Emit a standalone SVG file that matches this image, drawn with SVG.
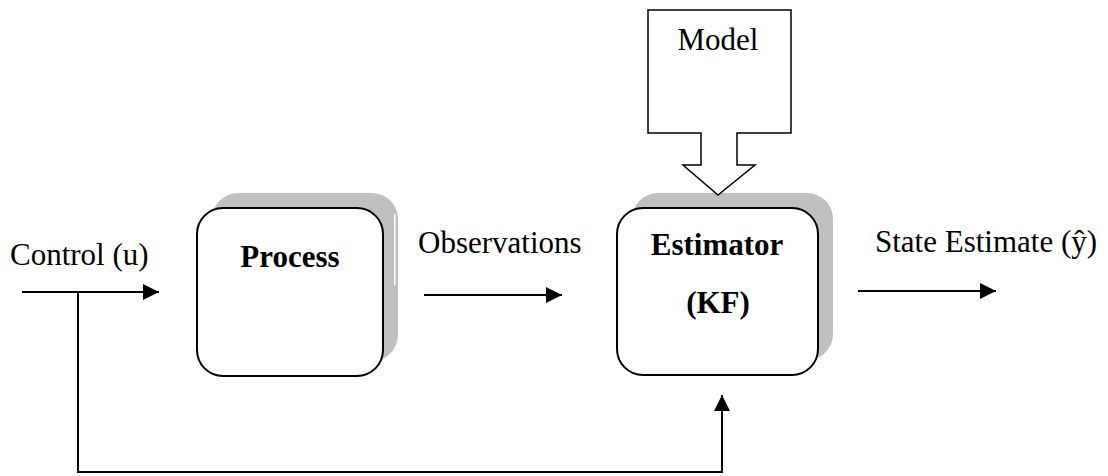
<svg xmlns="http://www.w3.org/2000/svg" width="1108" height="476" viewBox="0 0 1108 476">
<defs>
<marker id="arr" viewBox="0 0 16 16" refX="16" refY="8" markerWidth="16" markerHeight="16" markerUnits="userSpaceOnUse" orient="auto">
<path d="M0,0 L16,8 L0,16 Z" fill="#000"/>
</marker>
</defs>
<style>
.t{font-family:"Liberation Serif","Times New Roman",serif;font-size:31px;fill:#000}
.b{font-weight:bold}
.box{fill:#fff;stroke:#000;stroke-width:2}
.sh{fill:#c0c0c0}
.ln{fill:none;stroke:#000;stroke-width:2}
</style>
<rect width="1108" height="476" fill="#fff"/>
<g id="process">
<rect class="sh" x="212" y="193" width="186" height="168" rx="26"/>
<rect x="394" y="214" width="1.5" height="71" fill="#fff"/>
<rect class="box" x="197" y="208" width="186" height="168" rx="26"/>
<text class="t b" x="290" y="267" text-anchor="middle">Process</text>
</g>
<g id="estimator">
<rect class="sh" x="632" y="193" width="201" height="167" rx="26"/>
<rect class="box" x="617" y="208" width="201" height="167" rx="26"/>
<text class="t b" x="717" y="255" text-anchor="middle">Estimator</text>
<text class="t b" x="718" y="313" text-anchor="middle">(KF)</text>
</g>
<g id="model">
<path d="M648,10 H791 V133 H737 V165 H755 L718,195 L683,165 H701 V133 H648 Z" fill="#fff" stroke="#000" stroke-width="1.5"/>
<text class="t" x="718" y="50" text-anchor="middle">Model</text>
</g>
<g id="labels">
<text class="t" x="10" y="265">Control (u)</text>
<text class="t" x="418" y="253">Observations</text>
<text class="t" x="875" y="252">State Estimate (ŷ)</text>
</g>
<g id="connectors">
<line class="ln" x1="22" y1="292" x2="159" y2="292" marker-end="url(#arr)"/>
<line class="ln" x1="424" y1="295" x2="562" y2="295" marker-end="url(#arr)"/>
<line class="ln" x1="858" y1="291" x2="996" y2="291" marker-end="url(#arr)"/>
<path class="ln" d="M78,292 V472 H722 V395" marker-end="url(#arr)"/>
</g>
</svg>
